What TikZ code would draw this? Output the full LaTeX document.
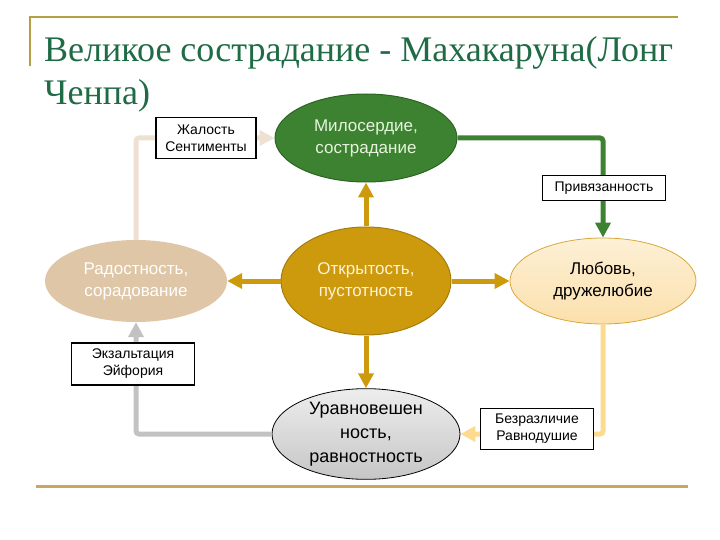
\documentclass[tikz,border=0pt]{standalone}
\usepackage{fontspec}
\setmainfont{Liberation Serif}
\newfontfamily\bodyfont{Liberation Sans}
\usetikzlibrary{shapes.geometric,arrows.meta}
\definecolor{titlegreen}{HTML}{1E6B45}
\definecolor{frameolive}{HTML}{B4A040}
\definecolor{bottomgold}{HTML}{C8A860}
\definecolor{milfill}{HTML}{3D8230}
\definecolor{milborder}{HTML}{2D6424}
\definecolor{miltext}{HTML}{E6F4DE}
\definecolor{goldfill}{HTML}{CC9A0C}
\definecolor{goldborder}{HTML}{A67D0A}
\definecolor{goldtext}{HTML}{FFF2D4}
\definecolor{tanfill}{HTML}{DEC6A6}
\definecolor{tanline}{HTML}{EEE1D2}
\definecolor{lubtop}{HTML}{FDF0D6}
\definecolor{lubbot}{HTML}{FBE0AC}
\definecolor{lubborder}{HTML}{D9A83A}
\definecolor{yelline}{HTML}{FCDA8E}
\definecolor{grayline}{HTML}{C2C2C2}
\definecolor{graytop}{HTML}{EDEDED}
\definecolor{graybot}{HTML}{C6C6C6}
\tikzset{
  oval/.style={ellipse, inner sep=0pt, align=center, font=\bodyfont\fontsize{17}{22}\selectfont},
  labelbox/.style={draw=black, line width=1.8pt, fill=white, inner sep=0pt, align=center, font=\bodyfont\fontsize{14}{17}\selectfont},
  conn/.style={line width=5pt, rounded corners=3pt, -{Triangle[width=15pt,length=15pt]}},
}
\begin{document}
\begin{tikzpicture}[x=1pt,y=-1pt]
\useasboundingbox (0,0) rectangle (720,540);
% frame lines
\draw[frameolive, line width=2pt] (30,66) -- (30,17) -- (678,17);
\draw[bottomgold, line width=3pt] (36,486) -- (688,486);
% title
\node[anchor=base west, inner sep=0pt, text=titlegreen, font=\fontsize{36}{43}\selectfont] (t1) at (44,62) {Великое сострадание - Махакаруна(Лонг};
\node[anchor=base west, inner sep=0pt, text=titlegreen, font=\fontsize{36}{43}\selectfont] (t2) at (44,105) {Ченпа)};
% ellipses
\node[oval, minimum width=182pt, minimum height=88pt, fill=milfill, draw=milborder, line width=1pt, text=miltext] (mil) at (366,138) {Милосердие,\\сострадание};
\node[oval, minimum width=170pt, minimum height=108pt, fill=goldfill, draw=goldborder, line width=1pt, text=goldtext] (otk) at (366,281) {Открытость,\\пустотность};
\node[oval, minimum width=182pt, minimum height=82pt, fill=tanfill, text=white] (rad) at (136,281) {Радостность,\\сорадование};
\node[oval, minimum width=186pt, minimum height=86pt, top color=lubtop, bottom color=lubbot, draw=lubborder, line width=0.8pt, text=black] (lub) at (603,281) {Любовь,\\дружелюбие};
\node[oval, minimum width=188pt, minimum height=84pt, top color=graytop, bottom color=graybot, draw=black, line width=0.8pt, text=black, font=\bodyfont\fontsize{18}{24}\selectfont] (ur) at (366,434) {Уравновешен\\ность,\\равностность};
% connectors
\draw[conn, milfill] (mil.east) -| (lub.north);
\draw[conn, tanline] (rad.north) |- (mil.west);
\draw[conn, goldfill] (otk.north) -- (mil.south);
\draw[conn, goldfill] (otk.west) -- (rad.east);
\draw[conn, goldfill] (otk.east) -- (lub.west);
\draw[conn, goldfill] (otk.south) -- (ur.north);
\draw[conn, yelline] (lub.south) |- (ur.east);
\draw[conn, grayline] (ur.west) -| (rad.south);
% boxes
\node[labelbox, minimum width=100pt, minimum height=41pt] (zhal) at (206,138) {Жалость\\Сентименты};
\node[labelbox, minimum width=123pt, minimum height=25pt] (priv) at (604,188) {Привязанность};
\node[labelbox, minimum width=123pt, minimum height=42pt] (ekz) at (133,364) {Экзальтация\\Эйфория};
\node[labelbox, minimum width=113pt, minimum height=41pt] (bez) at (537,429) {Безразличие\\Равнодушие};
\end{tikzpicture}
\end{document}
